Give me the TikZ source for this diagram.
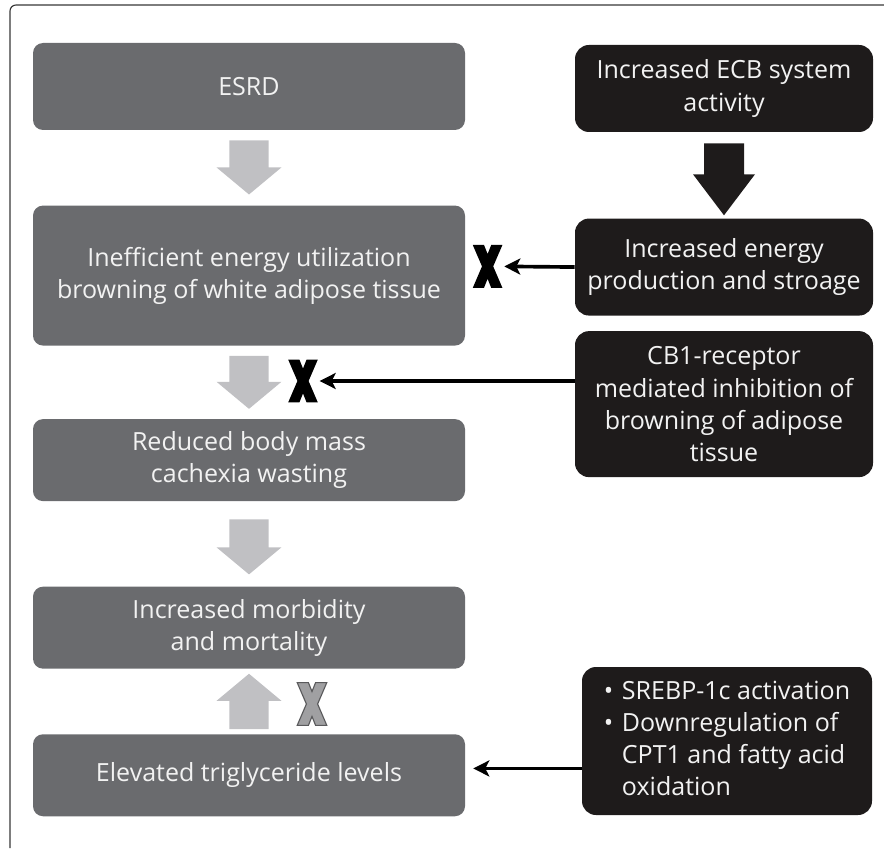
\documentclass[tikz,border=0pt]{standalone}
\usepackage{fontspec}
\setmainfont{Open Sans}
\usepackage{tikz}
\usetikzlibrary{positioning,arrows.meta,calc}

\definecolor{boxgray}{RGB}{106,107,110}
\definecolor{boxblack}{RGB}{30,27,27}
\definecolor{arrowgray}{RGB}{192,192,195}
\definecolor{xgray}{RGB}{160,160,162}
\definecolor{xedge}{RGB}{90,90,92}
\definecolor{framegray}{RGB}{55,55,55}

% fat vertical arrow: fill, tail, tip, half shaft, half head, head length
\newcommand{\fatarrow}[6]{%
  \coordinate (hb) at ($(#3)!#6!(#2)$);
  \fill[#1] ($(#2)+(-#4,0)$) -- ($(hb)+(-#4,0)$) -- ($(hb)+(-#5,0)$) -- (#3)
    -- ($(hb)+(#5,0)$) -- ($(hb)+(#4,0)$) -- ($(#2)+(#4,0)$) -- cycle;}

\begin{document}
\begin{tikzpicture}[>=Stealth, node distance=0.0cm,
  every node/.style={font=\fontsize{17.8}{22.8}\selectfont, align=center, text=white!95!black},
  leftbox/.style={fill=boxgray, rounded corners=0.25cm,
        minimum width=10.8cm, minimum height=2.05cm},
  rightbox/.style={fill=boxblack, rounded corners=0.35cm,
        minimum width=7.45cm, minimum height=2.175cm},
  crossmark/.style={minimum width=0.82cm, minimum height=1.15cm, inner sep=0pt,
        path picture={\path[#1, shift={(path picture bounding box.center)}]
          (-0.37,0.535) -- (-0.09,0.535) -- (0,0.31) -- (0.09,0.535) -- (0.37,0.535)
          -- (0.14,0) -- (0.37,-0.535) -- (0.09,-0.535) -- (0,-0.31) -- (-0.09,-0.535)
          -- (-0.37,-0.535) -- (-0.14,0) -- cycle;}},
  thinarrow/.style={-{Stealth[length=0.4cm,width=0.4cm,inset=0.1cm]}, line width=2.6pt}]

  \useasboundingbox (0,0) rectangle (22.1,-21.25);

  %% frame
  \draw[framegray, line width=0.8pt, rounded corners=0.15cm]
      (0.25,-21.2) -- (0.25,-0.125) -- (22.1,-0.125);

  %% ─── left column ───────────────────────────────────────────────────────
  \node[leftbox, minimum height=2.175cm] (esrd) at (6.225,-2.1625) {ESRD};

  \node[leftbox, minimum height=3.5cm, below=1.875cm of esrd] (ineff)
      {Inefficient energy utilization\\browning of white adipose tissue};

  \node[leftbox, below=1.825cm of ineff] (mass)
      {Reduced body mass\\cachexia wasting};

  \node[leftbox, below=2.125cm of mass] (morb)
      {Increased morbidity\\and mortality};

  \node[leftbox, below=1.625cm of morb] (tri)
      {Elevated triglyceride levels};

  %% ─── right column ──────────────────────────────────────────────────────
  \node[rightbox] (ecb) at (18.1,-2.2125)
      {Increased ECB system\\activity};

  \node[rightbox, minimum height=2.425cm, below=2.15cm of ecb] (energy)
      {Increased energy\\production and stroage};

  \node[rightbox, minimum height=3.65cm, below=0.375cm of energy] (cb1)
      {CB1-receptor\\mediated inhibition of\\browning of adipose\\tissue};

  \node[rightbox, minimum width=7.25cm, minimum height=3.7cm] (srebp) at (18.175,-18.525)
      {\begin{tabular}{@{}l@{\hspace{0.35em}}l@{}}
        • & SREBP-1c activation\\
        • & Downregulation of\\
          & CPT1 and fatty acid\\
          & oxidation
       \end{tabular}};

  %% ─── block arrows ──────────────────────────────────────────────────────
  \coordinate (a1t) at ([yshift=-0.25cm]esrd.south);
  \coordinate (a1h) at ([yshift=0.27cm]ineff.north);
  \fatarrow{arrowgray}{a1t}{a1h}{0.49}{0.81}{0.675cm}

  \coordinate (a2t) at ([yshift=-0.25cm]ineff.south);
  \coordinate (a2h) at ([yshift=0.25cm]mass.north);
  \fatarrow{arrowgray}{a2t}{a2h}{0.49}{0.81}{0.675cm}

  \coordinate (a3t) at ([yshift=-0.45cm]mass.south);
  \coordinate (a3h) at ([yshift=0.3cm]morb.north);
  \fatarrow{arrowgray}{a3t}{a3h}{0.49}{0.81}{0.675cm}

  \coordinate (a4t) at ([yshift=0.12cm]tri.north);
  \coordinate (a4h) at ([yshift=-0.12cm]morb.south);
  \fatarrow{arrowgray}{a4t}{a4h}{0.49}{0.81}{0.675cm}

  \coordinate (a5t) at ([yshift=-0.275cm]ecb.south);
  \coordinate (a5h) at ([yshift=0.075cm]energy.north);
  \fatarrow{boxblack}{a5t}{a5h}{0.5}{0.775}{1.025cm}

  %% ─── blocked links ─────────────────────────────────────────────────────
  \node[crossmark={fill=black}] (x1) at (12.19,-6.66) {};
  \node[crossmark={fill=black}] (x2) at (7.575,-9.525) {};
  \node[crossmark={fill=xgray, draw=xedge, line width=0.8pt}] (x3) at (7.8,-17.6) {};

  \draw[thinarrow] (energy.west) -- (x1.east);
  \draw[thinarrow] (cb1.west |- x2) -- (x2.east);
  \coordinate (trgin) at ([xshift=0.2cm,yshift=0.17cm]tri.east);
  \draw[thinarrow] (srebp.west |- trgin) -- (trgin);

\end{tikzpicture}
\end{document}
